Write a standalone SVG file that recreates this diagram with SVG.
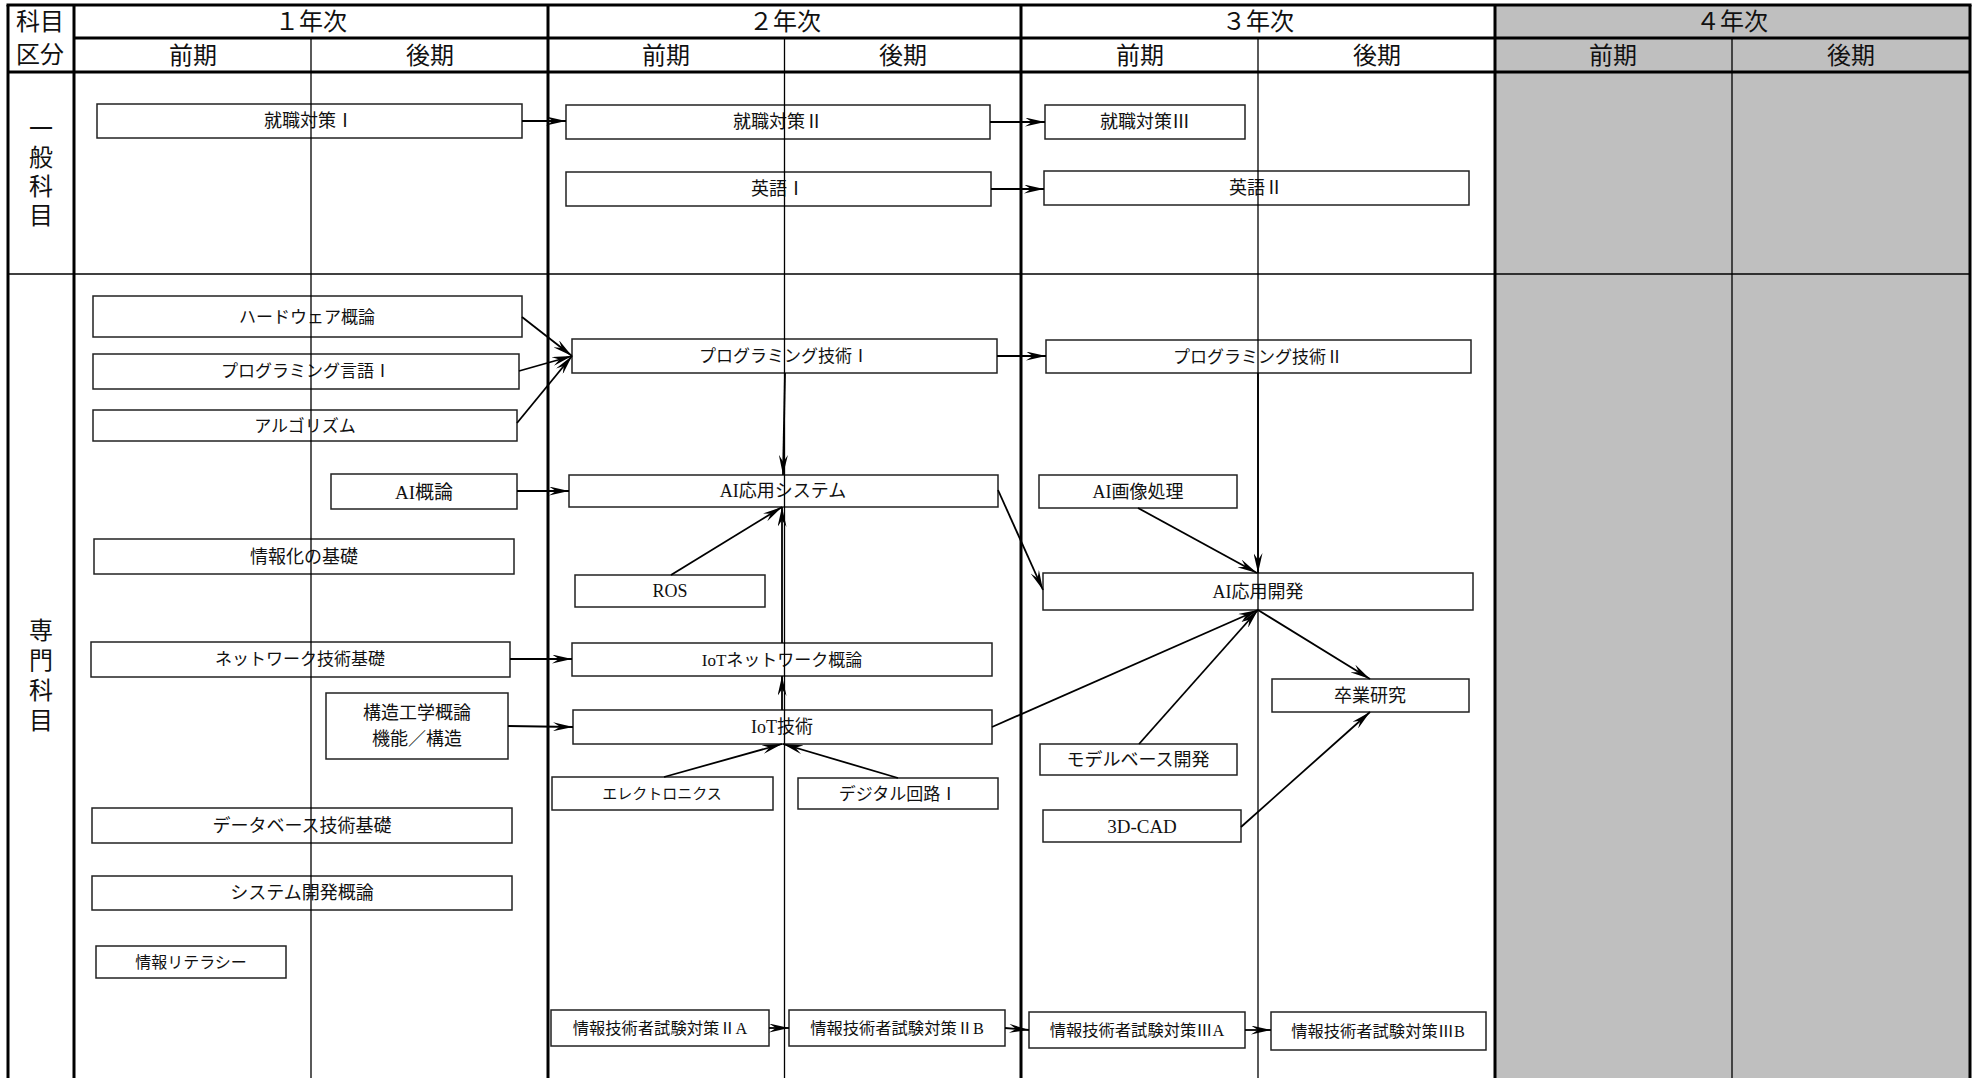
<svg xmlns="http://www.w3.org/2000/svg" width="1975" height="1078" viewBox="0 0 1975 1078">
<style>
.thick{stroke:#000;stroke-width:3;fill:none}
.thin{stroke:#000;stroke-width:1.3;fill:none}
.hdr{font-family:"Liberation Serif","Noto Sans CJK JP",serif;font-size:24px;fill:#111;text-anchor:middle;dominant-baseline:central}
.node rect{fill:#fff;stroke:#222;stroke-width:1.5}
.node text{font-family:"Liberation Serif","Noto Sans CJK JP",serif;font-size:18px;fill:#111;text-anchor:middle;dominant-baseline:central}
.node text.s17{font-size:17px}
.node text.s16{font-size:16px}
.node text.s15{font-size:15px}
.node text.ex{font-size:16.3px}
.node text.s19{font-size:19px}
#connectors line{stroke:#000;stroke-width:1.8;marker-end:url(#ah)}
</style>
<defs>
<marker id="ah" markerUnits="userSpaceOnUse" viewBox="0 0 20 9" markerWidth="20" markerHeight="9" refX="20" refY="4.5" orient="auto">
<path d="M0,0 L20,4.5 L0,9 L7,4.5 Z" fill="#000"/>
</marker>
</defs>
<rect x="0" y="0" width="1975" height="1078" fill="#fff"/>
<rect x="1495" y="5" width="475" height="1073" fill="#BFBFBF"/>

<g id="nodes">
<g id="n-shushoku1" class="node"><rect x="97" y="104" width="425" height="34"/><text x="309" y="121">就職対策Ⅰ</text></g>
<g id="n-shushoku2" class="node"><rect x="566" y="105" width="424" height="34"/><text x="778" y="122">就職対策Ⅱ</text></g>
<g id="n-shushoku3" class="node"><rect x="1045" y="105" width="200" height="34"/><text x="1145" y="122">就職対策Ⅲ</text></g>
<g id="n-eigo1" class="node"><rect x="566" y="172" width="425" height="34"/><text x="778" y="189">英語Ⅰ</text></g>
<g id="n-eigo2" class="node"><rect x="1044" y="171" width="425" height="34"/><text x="1256" y="188">英語Ⅱ</text></g>
<g id="n-hardware" class="node"><rect x="93" y="296" width="429" height="41"/><text class="s17" x="307" y="317">ハードウェア概論</text></g>
<g id="n-proglang1" class="node"><rect x="93" y="354" width="426" height="35"/><text class="s17" x="306" y="371">プログラミング言語Ⅰ</text></g>
<g id="n-algo" class="node"><rect x="93" y="410" width="424" height="31"/><text class="s17" x="305" y="426">アルゴリズム</text></g>
<g id="n-ai" class="node"><rect x="331" y="474" width="186" height="35"/><text class="s19" x="424" y="492">AI概論</text></g>
<g id="n-johoka" class="node"><rect x="94" y="539" width="420" height="35"/><text x="304" y="557">情報化の基礎</text></g>
<g id="n-network" class="node"><rect x="91" y="642" width="419" height="35"/><text class="s17" x="300" y="659">ネットワーク技術基礎</text></g>
<g id="n-kozo" class="node"><rect x="326" y="693" width="182" height="66"/><text x="417" y="713">構造工学概論</text><text x="417" y="739">機能／構造</text></g>
<g id="n-db" class="node"><rect x="92" y="808" width="420" height="35"/><text x="302" y="826">データベース技術基礎</text></g>
<g id="n-sysdev" class="node"><rect x="92" y="876" width="420" height="34"/><text x="302" y="893">システム開発概論</text></g>
<g id="n-literacy" class="node"><rect x="96" y="946" width="190" height="32"/><text class="s16" x="191" y="962">情報リテラシー</text></g>
<g id="n-progtech1" class="node"><rect x="572" y="339" width="425" height="34"/><text class="s17" x="784" y="356">プログラミング技術Ⅰ</text></g>
<g id="n-aisys" class="node"><rect x="569" y="475" width="429" height="32"/><text x="783" y="491">AI応用システム</text></g>
<g id="n-ros" class="node"><rect x="575" y="575" width="190" height="32"/><text x="670" y="591">ROS</text></g>
<g id="n-iotnet" class="node"><rect x="572" y="643" width="420" height="33"/><text class="s17" x="782" y="660">IoTネットワーク概論</text></g>
<g id="n-iot" class="node"><rect x="573" y="710" width="419" height="34"/><text x="782" y="727">IoT技術</text></g>
<g id="n-elec" class="node"><rect x="552" y="777" width="221" height="33"/><text class="s15" x="662" y="794">エレクトロニクス</text></g>
<g id="n-digital" class="node"><rect x="798" y="778" width="200" height="31"/><text class="s17" x="898" y="794">デジタル回路Ⅰ</text></g>
<g id="n-exam2a" class="node"><rect x="551" y="1010" width="218" height="36"/><text class="ex" x="660" y="1028">情報技術者試験対策ⅡA</text></g>
<g id="n-exam2b" class="node"><rect x="789" y="1010" width="216" height="36"/><text class="ex" x="897" y="1028">情報技術者試験対策ⅡB</text></g>
<g id="n-progtech2" class="node"><rect x="1046" y="340" width="425" height="33"/><text class="s17" x="1258" y="357">プログラミング技術Ⅱ</text></g>
<g id="n-aiimage" class="node"><rect x="1039" y="475" width="198" height="33"/><text x="1138" y="492">AI画像処理</text></g>
<g id="n-aidev" class="node"><rect x="1043" y="573" width="430" height="37"/><text x="1258" y="592">AI応用開発</text></g>
<g id="n-sotsuken" class="node"><rect x="1272" y="679" width="197" height="33"/><text x="1370" y="696">卒業研究</text></g>
<g id="n-mbd" class="node"><rect x="1040" y="744" width="197" height="31"/><text x="1138" y="760">モデルベース開発</text></g>
<g id="n-cad" class="node"><rect x="1043" y="810" width="198" height="32"/><text class="s19" x="1142" y="826">3D-CAD</text></g>
<g id="n-exam3a" class="node"><rect x="1029" y="1012" width="216" height="36"/><text class="ex" x="1137" y="1030">情報技術者試験対策ⅢA</text></g>
<g id="n-exam3b" class="node"><rect x="1271" y="1012" width="215" height="38"/><text class="ex" x="1378" y="1031">情報技術者試験対策ⅢB</text></g>
</g>

<g id="grid">
<line class="thin" x1="311" y1="38" x2="311" y2="1078"/>
<line class="thin" x1="784.5" y1="38" x2="784.5" y2="1078"/>
<line class="thin" x1="1258" y1="38" x2="1258" y2="1078"/>
<line class="thin" x1="1732" y1="38" x2="1732" y2="1078"/>
<line class="thin" x1="8" y1="274" x2="1970" y2="274" style="stroke-width:1.6"/>
<line class="thick" x1="6.5" y1="5" x2="1971.5" y2="5"/>
<line class="thick" x1="8" y1="5" x2="8" y2="1078"/>
<line class="thick" x1="1970" y1="5" x2="1970" y2="1078"/>
<line class="thick" x1="74" y1="5" x2="74" y2="1078"/>
<line class="thick" x1="548" y1="5" x2="548" y2="1078"/>
<line class="thick" x1="1021" y1="5" x2="1021" y2="1078"/>
<line class="thick" x1="1495" y1="5" x2="1495" y2="1078"/>
<line class="thick" x1="74" y1="38" x2="1970" y2="38"/>
<line class="thick" x1="8" y1="72" x2="1970" y2="72"/>
</g>

<g id="headers">
<text class="hdr" x="40" y="22">科目</text>
<text class="hdr" x="40" y="55">区分</text>
<text class="hdr" x="311" y="22">１年次</text>
<text class="hdr" x="785" y="22">２年次</text>
<text class="hdr" x="1258" y="22">３年次</text>
<text class="hdr" x="1732" y="22">４年次</text>
<text class="hdr" x="193" y="56">前期</text>
<text class="hdr" x="430" y="56">後期</text>
<text class="hdr" x="666" y="56">前期</text>
<text class="hdr" x="903" y="56">後期</text>
<text class="hdr" x="1140" y="56">前期</text>
<text class="hdr" x="1377" y="56">後期</text>
<text class="hdr" x="1613" y="56">前期</text>
<text class="hdr" x="1851" y="56">後期</text>
<text class="hdr" x="41" y="129">一</text>
<text class="hdr" x="41" y="158">般</text>
<text class="hdr" x="41" y="187">科</text>
<text class="hdr" x="41" y="216">目</text>
<text class="hdr" x="41" y="631">専</text>
<text class="hdr" x="41" y="661">門</text>
<text class="hdr" x="41" y="691">科</text>
<text class="hdr" x="41" y="721">目</text>
</g>

<g id="connectors">
<line x1="522" y1="121" x2="566" y2="121"/>
<line x1="990" y1="122" x2="1045" y2="122"/>
<line x1="991" y1="189" x2="1044" y2="189"/>
<line x1="522" y1="317" x2="572" y2="356"/>
<line x1="519" y1="371" x2="572" y2="356"/>
<line x1="517" y1="423" x2="572" y2="356"/>
<line x1="997" y1="356" x2="1046" y2="356"/>
<line x1="517" y1="491" x2="569" y2="491"/>
<line x1="785" y1="373" x2="783" y2="475"/>
<line x1="671" y1="575" x2="782" y2="507"/>
<line x1="782" y1="643" x2="782" y2="507"/>
<line x1="782" y1="710" x2="782" y2="676"/>
<line x1="998" y1="490" x2="1043" y2="590"/>
<line x1="1138" y1="508" x2="1257" y2="573"/>
<line x1="1258" y1="373" x2="1258" y2="573"/>
<line x1="992" y1="727" x2="1258" y2="610"/>
<line x1="1139" y1="744" x2="1258" y2="610"/>
<line x1="1258" y1="610" x2="1370" y2="679"/>
<line x1="1241" y1="827" x2="1370" y2="712"/>
<line x1="664" y1="777" x2="782" y2="744"/>
<line x1="898" y1="778" x2="783" y2="744"/>
<line x1="510" y1="659" x2="572" y2="659"/>
<line x1="508" y1="726" x2="573" y2="727"/>
<line x1="769" y1="1028" x2="789" y2="1028"/>
<line x1="1005" y1="1028" x2="1029" y2="1030"/>
<line x1="1245" y1="1030" x2="1271" y2="1030"/>
</g>
</svg>
